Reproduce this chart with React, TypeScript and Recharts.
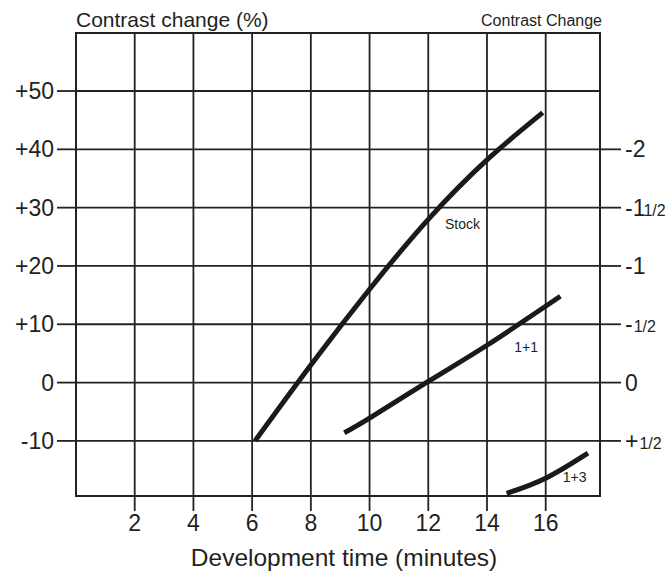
import { LineChart, Line, XAxis, YAxis, CartesianGrid, ReferenceArea, ReferenceDot } from 'recharts'

// development time (minutes) vs contrast change (%)
const stockX = [6.1, 8, 10, 12, 14, 15.9]
const stockY = [-10, 3, 16, 28, 38.2, 46.3]

const onePlusOneX = [9.14, 10, 12, 14, 16.5]
const onePlusOneY = [-8.6, -6.1, 0.2, 6.4, 14.8]

const onePlusThreeX = [14.67, 16, 17.44]
const onePlusThreeY = [-19, -16.4, -12.1]

const xTicks = [2, 4, 6, 8, 10, 12, 14, 16]
const yTicks = [-10, 0, 10, 20, 30, 40, 50]
const yTickLabels = ['-10', '0', '+10', '+20', '+30', '+40', '+50']

// right scale: contrast change in paper grades
const gradeTicks = [-10, 0, 10, 20, 30, 40]
const gradeMain = ['+', '0', '-', '-1', '-1', '-2']
const gradeFrac = ['1/2', '', '1/2', '', '1/2', '']

const curveLabels = ['Stock', '1+1', '1+3']
const curveLabelX = [12.57, 14.93, 16.58]
const curveLabelY = [26.3, 5.3, -17.1]

const X_DOMAIN: [number, number] = [0, 17.85]
const Y_DOMAIN: [number, number] = [-19.45, 59.95]

const INK = '#231f20'
const toPoints = (xs: number[], ys: number[]) => xs.map((x, i) => ({ x, y: ys[i] }))

const GradeTick = ({ x, y, payload }: any) => {
  const i = gradeTicks.indexOf(payload.value)
  return (
    <text x={x} y={y} dy="0.355em" fontSize={23} fill={INK} textAnchor="start">
      <tspan>{gradeMain[i]}</tspan>
      {gradeFrac[i] && <tspan fontSize={16} dx={gradeMain[i] === '-1' ? -2 : 1}>{gradeFrac[i]}</tspan>}
    </text>
  )
}

const CurveLabel = ({ viewBox, text }: any) => (
  <text x={viewBox.x} y={viewBox.y} fontSize={14} fill={INK}>{text}</text>
)

export default function App() {
  return (
    <div style={{ position: 'relative', width: 670, height: 571, fontFamily: '"Liberation Sans", Arial, sans-serif', background: '#fff' }}>
      <style>{'body{margin:0}'}</style>
      <div style={{ position: 'absolute', left: 76, top: 9, fontSize: 21, lineHeight: '21px', color: INK }}>
        Contrast change (%)
      </div>
      <div style={{ position: 'absolute', right: 68, top: 12.5, fontSize: 16, lineHeight: '16px', color: INK }}>
        Contrast Change
      </div>
      <LineChart width={670} height={571} margin={{ top: 33, right: 0, bottom: 0, left: 16 }}>
        <CartesianGrid stroke="#222" strokeWidth={1.8} />
        <XAxis
          dataKey="x"
          type="number"
          domain={X_DOMAIN}
          ticks={xTicks}
          allowDataOverflow
          height={75}
          tickSize={15}
          tickMargin={4}
          tick={{ fontSize: 23, fill: INK }}
          tickLine={{ stroke: '#222', strokeWidth: 1.8 }}
          axisLine={false}
          label={{ value: 'Development time (minutes)', position: 'insideBottom', offset: 5, dx: 6, fontSize: 24.5, fill: INK }}
        />
        <YAxis
          type="number"
          domain={Y_DOMAIN}
          ticks={yTicks}
          allowDataOverflow
          width={60}
          tickSize={19}
          tickMargin={3}
          tick={{ fontSize: 23, fill: INK }}
          tickFormatter={(v: number) => yTickLabels[yTicks.indexOf(v)]}
          tickLine={{ stroke: '#222', strokeWidth: 1.8 }}
          axisLine={false}
        />
        <YAxis
          yAxisId="right"
          orientation="right"
          type="number"
          domain={Y_DOMAIN}
          ticks={gradeTicks}
          allowDataOverflow
          width={70}
          tickSize={21}
          tickMargin={4}
          tick={<GradeTick />}
          tickLine={{ stroke: '#222', strokeWidth: 1.8 }}
          axisLine={false}
        />
        <ReferenceArea x1={X_DOMAIN[0]} x2={X_DOMAIN[1]} y1={Y_DOMAIN[0]} y2={Y_DOMAIN[1]} fill="none" stroke="#222" strokeWidth={2} />
        <Line data={toPoints(stockX, stockY)} dataKey="y" type="natural" stroke="#1a1a1a" strokeWidth={5} dot={false} isAnimationActive={false} />
        <Line data={toPoints(onePlusOneX, onePlusOneY)} dataKey="y" type="natural" stroke="#1a1a1a" strokeWidth={5} dot={false} isAnimationActive={false} />
        <Line data={toPoints(onePlusThreeX, onePlusThreeY)} dataKey="y" type="natural" stroke="#1a1a1a" strokeWidth={5} dot={false} isAnimationActive={false} />
        {curveLabels.map((t, i) => (
          <ReferenceDot key={t} x={curveLabelX[i]} y={curveLabelY[i]} r={0} fill="none" stroke="none" label={<CurveLabel text={t} />} />
        ))}
      </LineChart>
    </div>
  )
}
